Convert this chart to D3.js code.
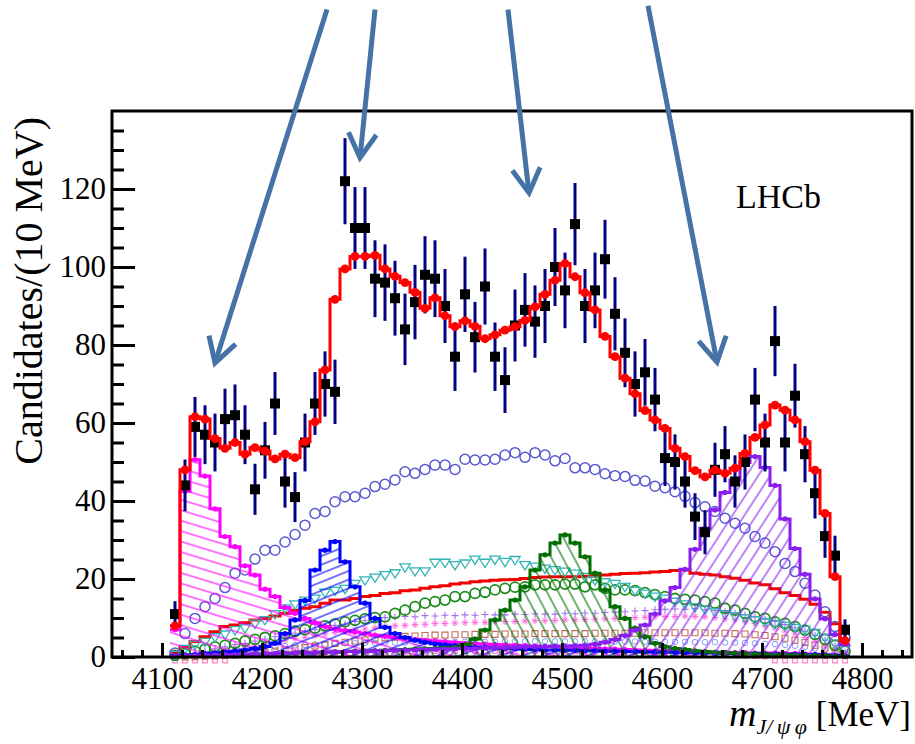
<!DOCTYPE html>
<html>
<head>
<meta charset="utf-8">
<script src="https://cdn.jsdelivr.net/npm/d3@7/dist/d3.min.js"></script>
<style>
  body { margin: 0; background: #fff; }
  text { font-family: "Liberation Serif", "Times New Roman", serif; }
</style>
</head>
<body>
<div class="chart"></div>
<script>
// 10 MeV bins, the first one starting at 4108 MeV
const binStart = 4108;
const binWidth = 10;

// data: candidates per bin
const dataCounts = [11,44,59,57,55,61,62,57,43,53, 65,45,41,55,65,70,68,122,110,110,
  97,96,92,84,91,98,97,90,77,93, 82,95,77,71,85,89,86,90,100,94,
  111,90,94,102,88,78,70,73,66,51, 50,45,36,32,48,52,45,50,66,55,
  81,55,67,52,42,31,26,7];

// total fit
const fitTotal = [8,48,61.6,61,56,53.5,55,52,53.7,52.8, 50.8,52,51.1,55.2,60.3,73.6,91.7,99.5,102.7,102.7,
  103,99.5,97.6,96,93.5,89.4,92.1,87.5,84.7,86.2, 84.8,81.6,82.6,83.8,84.7,86.3,89.8,93,96.6,100.9,
  97.5,93.4,89,82.2,77,71.5,67.5,63.2,60.8,58.6, 53.5,51.4,47.8,46.2,47.9,47.1,48.4,52.2,56.3,59.5,
  64.6,63.3,60.8,55.2,47.9,36.8,20.6,4.2];

// hatched components
const x4140 = [7,42.5,50.6,46.4,38,30.9,28.3,23.4,21,17.4, 15.5,12.7,11.2,9.9,8.8,7.8,7.2,6.8,6.4,6,
  5.6,5.3,5,4.7,4.5,4.3,4.1,3.9,3.7,3.5, 3.4,3.3,3.2,3.1,3,2.9,2.8,2.7,2.6,2.5,
  2.4,2.3,2.2,2.1,2,1.9,1.8,1.7,1.6,1.5, 1.4,1.4,1.3,1.3,1.2,1.2,1.1,1.1,1,1,
  1,0.9,0.9,0.8,0.7,0.6,0.5,0.3];
const x4274 = [0.3,0.5,0.6,0.8,1,1.2,1.5,1.8,2.2,2.7, 3.5,6,9.5,14.5,22.3,27.4,29.6,24.4,18,13.8,
  9.9,7.6,6,5,4.3,3.8,3.4,3.1,2.9,2.7, 2.5,2.4,2.3,2.2,2.1,2,1.9,1.8,1.8,1.7,
  1.7,1.6,1.6,1.5,1.5,1.4,1.4,1.3,1.3,1.2, 1.2,1.1,1.1,1,1,1,0.9,0.9,0.9,0.8,
  0.8,0.7,0.7,0.6,0.6,0.5,0.4,0.2];
const x4500 = [0.1,0.2,0.3,0.3,0.4,0.5,0.5,0.6,0.7,0.8, 0.8,0.9,1,1.1,1.1,1.2,1.3,1.4,1.5,1.5,
  1.6,1.7,1.8,1.9,2,2.1,2.2,2.3,2.5,3.2, 4.6,6.9,9.5,12,14.6,18,22.3,26.2,29.2,31.3,
  29.2,25.7,21.5,17.2,12.9,9.9,7.4,5.2,3.5,2.6, 2.2,1.9,1.6,1.4,1.2,1.1,1,0.9,0.8,0.7,
  0.6,0.6,0.5,0.4,0.4,0.3,0.2,0.1];
const x4700 = [0.2,0.3,0.4,0.4,0.5,0.6,0.6,0.7,0.8,0.8, 0.9,1,1,1.1,1.2,1.2,1.3,1.4,1.4,1.5,
  1.6,1.6,1.7,1.8,1.8,1.9,2,2,2.1,2.2, 2.2,2.3,2.4,2.4,2.5,2.6,2.6,2.7,2.8,2.8,
  2.9,3,3.3,3.8,4.5,5.5,6.9,8.2,11,14.4, 17.8,22.5,27.6,33,37.7,42.2,45.4,49.9,51.4,48.6,
  44,35.4,27.8,21.2,14.9,9.8,5.8,3.2];

// other components
const blueCircles = [1,6,9.9,12.9,15,17.8,21.5,22.3,25.1,27.4, 27.4,29.5,31.4,33.8,36.8,37.3,39.8,41.1,41.1,42,
  43.7,44.3,45.4,47.5,47.1,48.1,49.2,49.2,48.1,50.7, 50.5,50.5,50.7,51.8,52.4,51.2,52.4,51.8,50.3,50.9,
  48.5,48.5,48.1,47,46.5,46.3,45.3,45.1,43.8,43.4, 42.4,41.2,39.6,38.5,37.3,35.6,34.3,33,30.9,29.2,
  27,24,21.9,18.9,15.9,11.6,7.8,4.9];
const cyanTriangles = [0.6,2.1,3.2,3.9,5.1,5.8,6.9,7.4,8.6,9.5, 11,12.5,13.5,14.5,15,16.5,17,17.5,18.8,19.7,
  20.4,21,21.5,23,22,22,24.2,24.2,23.6,24, 25,24.2,25,24.4,24.9,23.6,23.2,22.7,22.3,21.9,
  21.4,20.6,19.7,19.2,18.8,18,17,16.3,15.5,15, 14.2,13.5,12.8,12.2,11.5,11,10.5,10,9.5,9,
  8.5,8,7.5,7,6.2,5,3.5,2];
const redLine = [1,2.5,4,5.2,6.5,7.8,8.2,8.8,9.5,9.9, 10.5,11.2,12,12.5,12.9,13.8,14.6,14.6,15,15.5,
  15.8,16.3,16.5,17,17.2,17.6,18,18.3,18.7,19, 19.3,19.5,19.7,19.8,19.9,20.1,20.4,20.5,20.6,20.6,
  20.6,20.7,20.8,21,21.2,21.4,21.5,21.6,21.8,21.9, 22.2,22.3,21.5,21.2,21,20.6,20.2,19.7,19,18.5,
  17.5,16.5,15.8,14.8,13.5,11.5,8.5,4.5];
const greenCircles = [0.4,0.9,1.5,2,2.6,3,3.5,4.1,4.5,5, 5.4,6,6.6,7,7.4,8,8.5,9,9.4,9.8,
  10.1,10.3,11.2,12,12.9,13.8,14.2,14.6,15.5,15.5, 16.3,16.6,17.2,17.6,17.9,18,18.5,18.5,18.5,18.7,
  18.7,18,18.5,17.6,17.2,17.2,17,16.5,16,15.5, 15,14.8,14.6,14.2,13.8,12.5,12,11.2,10.3,9.9,
  9,8.6,7.8,6.9,5.8,4.5,3,1.5];
const violetPlus = [0,0.4,0.9,1.4,2.1,2.6,3.2,3.5,4.1,4.6, 5.2,5.5,6.1,6.6,7,7.7,8.1,8.4,9.1,9.3,
  9.8,10.1,10.2,10.4,10.3,10.6,10.5,10.7,10.6,10.8, 10.7,10.9,10.8,10.8,11,10.9,11.1,11,11,11.2,
  11.1,11.3,11.2,11.4,11.5,11.6,11.8,11.9,12.1,12.2, 12.3,12.2,12.4,12.1,11.9,11.6,11.2,10.8,10.3,9.7,
  9.1,8.3,7.5,6.6,5.5,4.3,2.9,1.3];
const pinkStars = [0,0.3,0.6,1,1.4,1.8,2.3,2.7,3.1,3.5, 3.9,4.3,4.8,5.1,5.5,5.9,6.3,6.6,7,7.2,
  7.5,7.8,8,8.1,8.3,8.4,8.6,8.6,8.7,8.8, 8.9,8.9,9,9.1,9.1,9.2,9.3,9.3,9.4,9.5,
  9.5,9.6,9.7,9.8,9.9,10,10.1,10.2,10.3,10.4, 10.4,10.5,10.4,10.3,10.1,9.8,9.5,9.1,8.6,8,
  7.4,6.7,5.9,5,4,3,1.9,0.8];
const brownSquares = [0,0,0.1,0.2,0.3,0.4,0.6,0.8,1,1.2, 1.5,1.8,2.1,2.4,2.8,3.1,3.5,3.8,4.1,4.4,
  4.7,4.9,5.1,5.3,5.4,5.5,5.6,5.6,5.7,5.7, 5.8,5.8,5.8,5.9,5.9,5.9,6,6,6,6,
  6,6,6.1,6.1,6.1,6.1,6.1,6.2,6.2,6.2, 6.2,6.2,6.2,6.2,6.1,6.1,6,5.9,5.7,5.5,
  5.2,4.8,4.3,3.7,3,2.3,1.5,0.6];
const lightBlueCircles = [0,0.2,0.5,0.8,1.1,1.4,1.7,2,2.2,2.4, 2.6,2.8,3,3.1,3.2,3.3,3.4,3.5,3.5,3.6,
  3.6,3.7,3.7,3.7,3.8,3.8,3.8,3.8,3.9,3.9, 3.9,3.9,3.9,4,4,4,4,4,4,4,
  4,4,4,4,4,4,4,3.9,3.9,3.9, 3.9,3.9,3.8,3.8,3.8,3.7,3.7,3.6,3.5,3.4,
  3.3,3.1,2.9,2.6,2.2,1.7,1.1,0.5];
const edgePink = [-0.9,-0.9,-0.9,-0.9,-0.9,-0.9,0.3,0.4,0.5,0.6, 0.7,0.8,0.9,1,1,1.1,1.1,1.2,1.2,1.3,
  1.3,1.3,1.4,1.4,1.4,1.4,1.5,1.5,1.5,1.5, 1.5,1.5,1.5,1.5,1.5,1.5,1.5,1.5,1.4,1.4,
  1.4,1.4,1.3,1.3,1.3,1.2,1.2,1.1,1.1,1, 1,0.9,0.8,0.7,0.6,0.5,0.4,0.3,0.2,0.1,
  -0.9,-0.9,-0.9,-0.9,-0.9,-0.9,-0.9,-0.9];

// axis ticks
const xMajor = [4100,4200,4300,4400,4500,4600,4700,4800];
const xMinor = d3.range(4060, 4850, 20).filter(v => v % 100 !== 0);
const yMajor = [0,20,40,60,80,100,120];
const yMinor = d3.range(5, 140, 5).filter(v => v % 20 !== 0);

// annotation arrows (tail -> tip), in axis units
const arrows = [
  {x1: 4265, y1: 166, x2: 4153, y2: 75.4},
  {x1: 4313, y1: 166, x2: 4298, y2: 128},
  {x1: 4446, y1: 166, x2: 4467, y2: 119},
  {x1: 4586, y1: 167, x2: 4655, y2: 75.6}
];

const W = 915, H = 744;
const svg = d3.select(".chart").append("svg")
  .attr("width", W).attr("height", H)
  .style("background", "#fff");

const x = d3.scaleLinear().domain([4050, 4850]).range([112, 912]);
const y = d3.scaleLinear().domain([0, 140]).range([657, 111]);

const center = i => binStart + (i + 0.5) * binWidth;
const edges = vals => vals.map((v, i) => [binStart + i * binWidth, v])
  .concat([[binStart + vals.length * binWidth, vals[vals.length - 1]]]);

const stepLine = d3.line().x(d => x(d[0])).y(d => y(d[1])).curve(d3.curveStepAfter);
const stepArea = d3.area().x(d => x(d[0])).y0(y(0)).y1(d => y(d[1])).curve(d3.curveStepAfter);

// hatch patterns
const defs = svg.append("defs");
function hatch(id, color, angle, gap) {
  const p = defs.append("pattern").attr("id", id)
    .attr("patternUnits", "userSpaceOnUse")
    .attr("width", gap).attr("height", gap)
    .attr("patternTransform", `rotate(${angle})`);
  p.append("line").attr("x1", 0).attr("y1", gap / 2).attr("x2", gap).attr("y2", gap / 2)
    .attr("stroke", color).attr("stroke-width", 1.1);
}
hatch("h4140", "#ff00ff", 17, 10);
hatch("h4274", "#0000ff", -22, 8);
hatch("h4500", "#006e00", 62, 10);
hatch("h4700", "#8a1ef0", -57, 10);

const plot = svg.append("g");

// marker helpers
function markers(vals, color, type, size, width) {
  const g = plot.append("g");
  const path = {
    plus: s => `M${-s},0H${s}M0,${-s}V${s}`,
    star: s => `M${-s},0H${s}M0,${-s}V${s}M${-s*0.7},${-s*0.7}L${s*0.7},${s*0.7}M${-s*0.7},${s*0.7}L${s*0.7},${-s*0.7}`,
    square: s => `M${-s},${-s}H${s}V${s}H${-s}Z`,
    tri: s => `M${-s},${-s*0.65}H${s}L0,${s*0.95}Z`
  };
  vals.forEach((v, i) => {
    if (type === "circle" || type === "dot") {
      g.append("circle").attr("cx", x(center(i))).attr("cy", y(v)).attr("r", size)
        .attr("fill", type === "dot" ? color : "none")
        .attr("stroke", color).attr("stroke-width", type === "dot" ? 0 : width);
    } else {
      g.append("path").attr("d", path[type](size))
        .attr("transform", `translate(${x(center(i))},${y(v)})`)
        .attr("fill", "none")
        .attr("stroke", color).attr("stroke-width", width);
    }
  });
}

// small components near the bottom
markers(edgePink, "#ff80c8", "square", 2.3, 1.2);
markers(lightBlueCircles, "#7f9cff", "circle", 2.8, 1);
markers(brownSquares, "#c46a5a", "square", 3, 1.1);
markers(pinkStars, "#ff66dd", "star", 3.5, 1);
markers(violetPlus, "#a070f0", "plus", 3.5, 1.1);

// red component line
plot.append("path").attr("d", stepLine(edges(redLine)))
  .attr("fill", "none").attr("stroke", "#f00000").attr("stroke-width", 3);

markers(greenCircles, "#1e8c1e", "circle", 5, 1.8);
markers(cyanTriangles, "#33b5b5", "tri", 5.2, 1.3);
markers(blueCircles, "#5a5ad0", "circle", 5, 1.5);

// hatched resonances
function hatched(vals, color, pat) {
  plot.append("path").attr("d", stepArea(edges(vals))).attr("fill", `url(#${pat})`);
  plot.append("path").attr("d", stepLine(edges(vals)))
    .attr("fill", "none").attr("stroke", color).attr("stroke-width", 3);
  markers(vals, color, "dot", 2.6, 0);
}
hatched(x4140, "#ff00ff", "h4140");
hatched(x4274, "#0000ff", "h4274");
hatched(x4500, "#006e00", "h4500");
hatched(x4700, "#8a1ef0", "h4700");

// data with sqrt(N) errors
const dg = plot.append("g");
dataCounts.forEach((n, i) => {
  const e = Math.sqrt(n);
  dg.append("line")
    .attr("x1", x(center(i))).attr("x2", x(center(i)))
    .attr("y1", y(n - e)).attr("y2", y(n + e))
    .attr("stroke", "#000080").attr("stroke-width", 3);
});
dataCounts.forEach((n, i) => {
  dg.append("rect")
    .attr("x", x(center(i)) - 5).attr("y", y(n) - 5)
    .attr("width", 10).attr("height", 10).attr("fill", "#000");
});

// total fit
plot.append("path").attr("d", stepLine(edges(fitTotal)))
  .attr("fill", "none").attr("stroke", "#ff0000").attr("stroke-width", 3);
markers(fitTotal, "#ff0000", "dot", 4.4, 0);

// axes
const xg = svg.append("g").attr("transform", `translate(0,${y(0)})`);
xg.call(d3.axisBottom(x).tickValues(xMajor).tickSize(-14).tickPadding(10).tickFormat(d3.format("d")));
xg.call(g => g.select(".domain").remove());
const xm = svg.append("g").attr("transform", `translate(0,${y(0)})`)
  .call(d3.axisBottom(x).tickValues(xMinor).tickSize(-7).tickFormat(""));
xm.select(".domain").remove();

const yg = svg.append("g").attr("transform", `translate(${x(4050)},0)`);
yg.call(d3.axisLeft(y).tickValues(yMajor).tickSize(-23).tickPadding(6).tickFormat(d3.format("d")));
yg.select(".domain").remove();
const ym = svg.append("g").attr("transform", `translate(${x(4050)},0)`)
  .call(d3.axisLeft(y).tickValues(yMinor).tickSize(-12).tickFormat(""));
ym.select(".domain").remove();

svg.selectAll(".tick line").attr("stroke", "#000").attr("stroke-width", 3);
svg.selectAll(".tick text").attr("fill", "#000")
  .attr("font-family", "Liberation Serif")
  .style("font-family", '"Liberation Serif", serif').style("font-size", "31px");

// frame
svg.append("rect").attr("x", x(4050)).attr("y", y(140))
  .attr("width", x(4850) - x(4050)).attr("height", y(0) - y(140))
  .attr("fill", "none").attr("stroke", "#000").attr("stroke-width", 3);

// labels
svg.append("text").attr("x", 736).attr("y", 208)
  .style("font-size", "34px").text("LHCb");

svg.append("text")
  .attr("transform", "translate(42,117) rotate(-90)")
  .attr("text-anchor", "end")
  .style("font-size", "40px")
  .text("Candidates/(10 MeV)");

const xt = svg.append("text").attr("x", 911).attr("y", 726).attr("text-anchor", "end")
  .style("font-size", "35px");
xt.append("tspan").style("font-style", "italic").style("font-size", "38px").text("m");
xt.append("tspan").style("font-style", "italic").style("font-size", "22px").attr("dy", 8)
  .text("J/\u2009\u03c8\u2009\u03c6");
xt.append("tspan").attr("dy", -8).text(" [MeV]");

// arrows
const ag = svg.append("g").attr("stroke", "#4673a7").attr("stroke-width", 5)
  .attr("fill", "none");
arrows.forEach(a => {
  const x1 = x(a.x1), y1 = y(a.y1), x2 = x(a.x2), y2 = y(a.y2);
  ag.append("line").attr("x1", x1).attr("y1", y1).attr("x2", x2).attr("y2", y2);
  const len = Math.hypot(x1 - x2, y1 - y2);
  const ux = (x1 - x2) / len, uy = (y1 - y2) / len;
  const L = 28, t = Math.PI / 6;
  const w = s => [x2 + L * (ux * Math.cos(s * t) - uy * Math.sin(s * t)),
                  y2 + L * (ux * Math.sin(s * t) + uy * Math.cos(s * t))];
  const a1 = w(1), a2 = w(-1);
  ag.append("path").attr("d", `M${a1[0]},${a1[1]}L${x2},${y2}L${a2[0]},${a2[1]}`)
    .attr("stroke-linejoin", "miter");
});
</script>
</body>
</html>
